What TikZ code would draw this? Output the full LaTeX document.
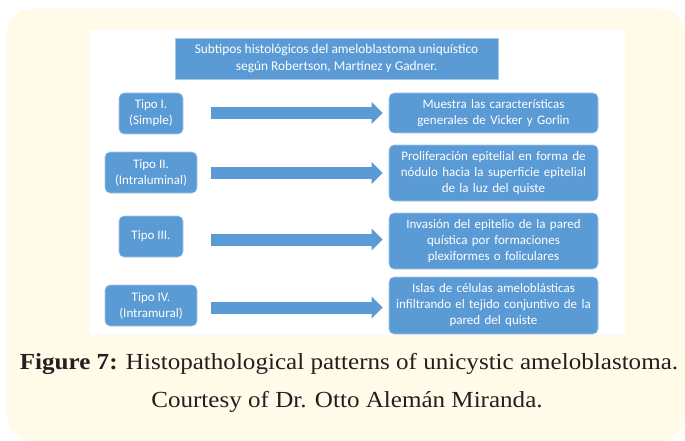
\documentclass[tikz,border=0pt]{standalone}
\usepackage{fontspec}
\setmainfont{Liberation Serif}
\newfontfamily\boxfont{Carlito}
\newfontfamily\capfont{Liberation Serif}[FakeStretch=1.09]
\usetikzlibrary{arrows.meta}
\definecolor{cream}{RGB}{255,251,232}
\definecolor{boxblue}{RGB}{91,155,213}
\definecolor{captext}{RGB}{35,31,32}

\begin{document}
\begin{tikzpicture}[
      x=1pt, y=-1pt,
      tipo/.style={rounded corners=5pt, fill=boxblue, draw=boxblue!55!white, line width=0.6pt,
        text=white, font=\boxfont\fontsize{13}{16}\selectfont, align=center,
        minimum height=41pt, inner sep=2pt},
      desc/.style={tipo, text width=203pt, inner xsep=3pt},
      headbox/.style={tipo, sharp corners, font=\boxfont\fontsize{13.4}{17}\selectfont,
        minimum width=323pt},
      bigarrow/.style={draw=boxblue, line width=12pt, -{Triangle[length=11pt, width=21pt]},
        shorten >=6pt},
      caption/.style={text=captext, font=\capfont\fontsize{23}{26}\selectfont, inner sep=0pt}
    ]
    \useasboundingbox (0,0) rectangle (685,441);
    \fill[cream, rounded corners=25pt] (7,9) rectangle (685,441);
    \fill[white] (89,30) rectangle (625,335);

    \node[headbox] (head) at (336.5,58.5)
      {Subtipos histológicos del ameloblastoma uniquístico\\según Robertson, Martínez y Gadner.};

    \foreach \i/\y/\w/\txt in {1/113.5/64/{Tipo I.\\(Simple)},
        2/172.5/92/{Tipo II.\\(Intraluminal)},
        3/236.5/64/{Tipo III.},
        4/305.5/92/{Tipo IV.\\(Intramural)}} {
      \node[tipo, minimum width=\w pt] (T\i) at (151,\y) {\txt};
    }
    \foreach \i/\y/\h/\txt in {1/113/40/{Muestra las características\\generales de Vicker y Gorlin},
        2/173/56/{Proliferación epitelial en forma de\\nódulo hacia la superficie epitelial\\de la luz del quiste},
        3/241/56/{Invasión del epitelio de la pared\\quística por formaciones\\plexiformes o foliculares},
        4/305.5/57/{Islas de células ameloblásticas\\infiltrando el tejido conjuntivo de la\\pared del quiste}} {
      \node[desc, minimum height=\h pt] (D\i) at (493.5,\y) {\txt};
    }

    \foreach \i/\y in {1/113,2/173,3/239.5,4/307.5} {
      \coordinate (s\i) at (211,\y);
      \draw[bigarrow] (s\i) -- (s\i -| D\i.west);
    }

    \node[caption] (cap1) at (349,364)
      {\textbf{Figure 7:} Histopathological patterns of unicystic ameloblastoma.};
    \node[caption] (cap2) at (347,402) {Courtesy of Dr. Otto Alemán Miranda.};
  \end{tikzpicture}
\end{document}
